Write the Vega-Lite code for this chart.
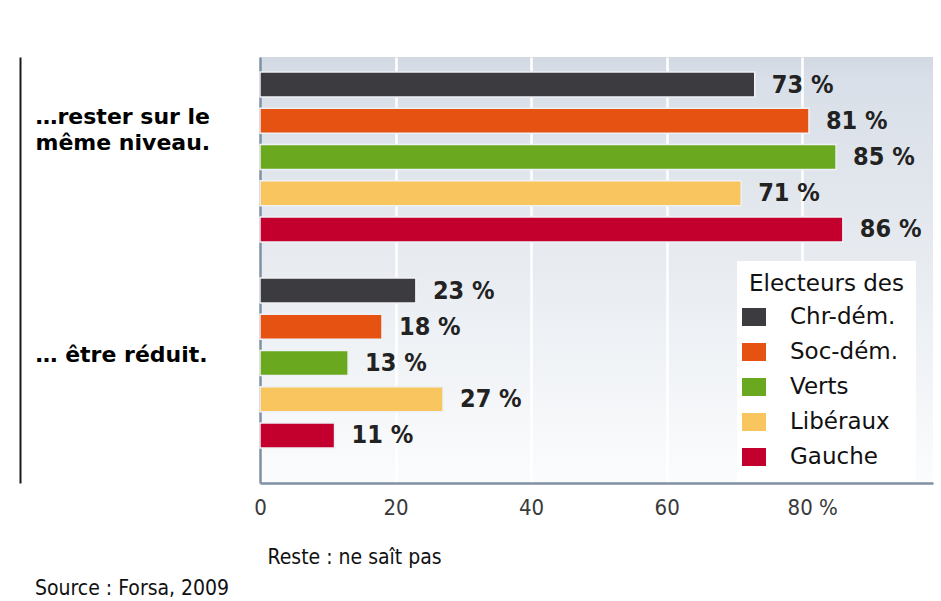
{
  "$schema": "https://vega.github.io/schema/vega-lite/v6.json",
  "autosize": {"type": "none"},
  "padding": {"left": 260, "top": 57, "right": 8, "bottom": 118},
  "width": 673,
  "height": 426,
  "background": "#ffffff",
  "data": {
    "values": [
      {"group": "…rester sur le même niveau.", "party": "Chr-dém.", "value": 73, "label": "73 %"},
      {"group": "…rester sur le même niveau.", "party": "Soc-dém.", "value": 81, "label": "81 %"},
      {"group": "…rester sur le même niveau.", "party": "Verts", "value": 85, "label": "85 %"},
      {"group": "…rester sur le même niveau.", "party": "Libéraux", "value": 71, "label": "71 %"},
      {"group": "…rester sur le même niveau.", "party": "Gauche", "value": 86, "label": "86 %"},
      {"group": "… être réduit.", "party": "Chr-dém.", "value": 23, "label": "23 %"},
      {"group": "… être réduit.", "party": "Soc-dém.", "value": 18, "label": "18 %"},
      {"group": "… être réduit.", "party": "Verts", "value": 13, "label": "13 %"},
      {"group": "… être réduit.", "party": "Libéraux", "value": 27, "label": "27 %"},
      {"group": "… être réduit.", "party": "Gauche", "value": 11, "label": "11 %"}
    ]
  },
  "encoding": {
    "y": {
      "field": "group",
      "type": "nominal",
      "sort": null,
      "scale": {
        "domain": ["…rester sur le même niveau.", "… être réduit."],
        "paddingInner": 0.175,
        "paddingOuter": 0.1215,
        "align": 0.3
      },
      "axis": {
        "title": null,
        "orient": "left",
        "offset": 240,
        "domain": true,
        "domainColor": "#1a1a1a",
        "domainWidth": 2,
        "ticks": false,
        "tickSize": 0,
        "labelAlign": "left",
        "labelBaseline": "middle",
        "labelPadding": -15,
        "labelOffset": {"condition": {"test": "datum.value == '…rester sur le même niveau.'", "value": -40}, "value": -8},
        "labelExpr": "datum.value == '…rester sur le même niveau.' ? ['…rester sur le', 'même niveau.'] : datum.label",
        "labelLineHeight": 26,
        "labelFont": "DejaVu Sans",
        "labelFontSize": 22,
        "labelFontWeight": "bold",
        "labelColor": "#000000",
        "labelLimit": 0,
        "labelOverlap": false,
        "labelBound": false
      }
    },
    "yOffset": {
      "field": "party",
      "type": "nominal",
      "sort": null,
      "scale": {
        "domain": ["Chr-dém.", "Soc-dém.", "Verts", "Libéraux", "Gauche"],
        "paddingInner": 0.31,
        "paddingOuter": 0
      }
    },
    "x": {
      "field": "value",
      "type": "quantitative",
      "scale": {"domain": [0, 99.3], "nice": false, "zero": true},
      "axis": {
        "values": [0, 20, 40, 60, 80],
        "grid": true,
        "gridColor": {"condition": {"test": "datum.value == 0", "value": "#7f90a3"}, "value": "#ffffff"},
        "gridWidth": 2.5,
        "domain": true,
        "domainColor": "#7f90a3",
        "domainWidth": 2.5,
        "ticks": false,
        "tickSize": 0,
        "labelFlush": false,
        "labelExpr": "datum.value == 80 ? '80 %' : datum.label",
        "labelOffset": {"condition": {"test": "datum.value == 80", "value": 10}, "value": 0},
        "labelFont": "DejaVu Sans Condensed, Liberation Sans Narrow, Roboto",
        "labelFontSize": 22,
        "labelColor": "#3a3a3a",
        "labelPadding": 14,
        "title": "Reste : ne saît pas",
        "titleFont": "DejaVu Sans Condensed, Liberation Sans Narrow, Roboto",
        "titleFontSize": 21,
        "titleFontWeight": "normal",
        "titleColor": "#111111",
        "titleAnchor": "start",
        "titleAlign": "left",
        "titleBaseline": "middle",
        "titleX": 7,
        "titleY": 74
      }
    }
  },
  "layer": [
    {
      "mark": {"type": "bar", "stroke": "#eef1f5", "strokeWidth": 1.5},
      "encoding": {
        "color": {
          "field": "party",
          "type": "nominal",
          "sort": null,
          "scale": {
            "domain": ["Chr-dém.", "Soc-dém.", "Verts", "Libéraux", "Gauche"],
            "range": ["#3b3b40", "#e65212", "#6aa91f", "#f9c55e", "#c3002d"]
          },
          "legend": {
            "title": "Electeurs des",
            "orient": "none",
            "legendX": 477,
            "legendY": 204,
            "titleFont": "DejaVu Sans",
            "titleFontSize": 23,
            "titleFontWeight": "normal",
            "titleColor": "#111111",
            "titlePadding": 9,
            "labelFont": "DejaVu Sans",
            "labelFontSize": 23,
            "labelColor": "#111111",
            "labelOffset": 24,
            "symbolType": "M-1,-0.75H1V0.75H-1Z",
            "symbolSize": 576,
            "symbolStrokeWidth": 0,
            "symbolOffset": -7,
            "rowPadding": 11,
            "padding": 12,
            "fillColor": "#ffffff"
          }
        }
      }
    },
    {
      "mark": {
        "type": "text",
        "align": "left",
        "baseline": "middle",
        "dx": 17,
        "font": "DejaVu Sans Condensed, Liberation Sans Narrow, Roboto",
        "fontSize": 25,
        "fontWeight": "bold",
        "color": "#222222"
      },
      "encoding": {"text": {"field": "label", "type": "nominal"}}
    }
  ],
  "title": {
    "text": "Source : Forsa, 2009",
    "orient": "bottom",
    "anchor": "start",
    "frame": "group",
    "dx": -225,
    "offset": 11,
    "font": "DejaVu Sans Condensed, Liberation Sans Narrow, Roboto",
    "fontSize": 21,
    "fontWeight": "normal",
    "color": "#111111"
  },
  "config": {
    "view": {
      "stroke": null,
      "fill": {
        "gradient": "linear",
        "x1": 0, "y1": 0, "x2": 0, "y2": 1,
        "stops": [
          {"offset": 0, "color": "#d2d9e3"},
          {"offset": 0.05, "color": "#d9dfe8"},
          {"offset": 0.5, "color": "#e8ecf1"},
          {"offset": 1, "color": "#fbfcfd"}
        ]
      }
    }
  }
}
